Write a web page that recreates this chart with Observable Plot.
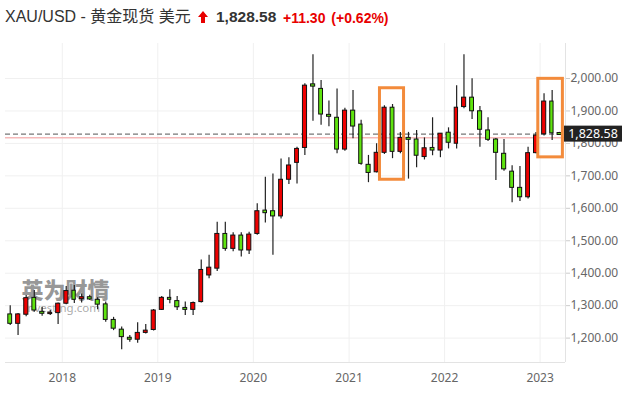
<!DOCTYPE html>
<html>
<head>
<meta charset="utf-8">
<script src="https://cdn.jsdelivr.net/npm/d3@7"></script>
<script src="https://cdn.jsdelivr.net/npm/@observablehq/plot@0.6"></script>
<style>
html, body { margin: 0; padding: 0; background: #fff; width: 630px; height: 395px; overflow: hidden; }
#header { position: relative; height: 32px; font-family: "Liberation Sans", "Noto Sans CJK SC", sans-serif; white-space: nowrap; }
#header span, #header svg { position: absolute; }
#title { left: 5px; top: 8px; font-size: 16px; color: #333; line-height: 18px; }
#arrow { left: 198px; top: 11px; }
#price { left: 216px; top: 8px; font-size: 15.5px; font-weight: bold; color: #333; line-height: 18px; }
#chg { left: 283px; top: 9px; font-size: 14px; font-weight: bold; color: #e80000; line-height: 18px; word-spacing: 2px; }
#chart { position: absolute; left: 0; top: 32px; }
</style>
</head>
<body>
<div id="header">
  <span id="title">XAU/USD - 黄金现货 美元</span>
  <svg id="arrow" width="10" height="12" viewBox="0 0 10 12"><polygon points="5,0 10,6 7,6 7,12 3,12 3,6 0,6" fill="#e80000"/></svg>
  <span id="price">1,828.58</span>
  <span id="chg">+11.30 (+0.62%)</span>
</div>
<div id="chart"></div>
<script>
// ---- data (monthly XAU/USD candles) ----
const months = [
  "2017-06","2017-07","2017-08","2017-09","2017-10","2017-11","2017-12",
  "2018-01","2018-02","2018-03","2018-04","2018-05","2018-06","2018-07","2018-08","2018-09","2018-10","2018-11","2018-12",
  "2019-01","2019-02","2019-03","2019-04","2019-05","2019-06","2019-07","2019-08","2019-09","2019-10","2019-11","2019-12",
  "2020-01","2020-02","2020-03","2020-04","2020-05","2020-06","2020-07","2020-08","2020-09","2020-10","2020-11","2020-12",
  "2021-01","2021-02","2021-03","2021-04","2021-05","2021-06","2021-07","2021-08","2021-09","2021-10","2021-11","2021-12",
  "2022-01","2022-02","2022-03","2022-04","2022-05","2022-06","2022-07","2022-08","2022-09","2022-10","2022-11","2022-12",
  "2023-01","2023-02","2023-03"
];
const openP = [
  1273,1244,1272,1324,1281,1274,1277,
  1306,1346,1320,1326,1318,1304,1256,1226,1201,1195,1216,1225,
  1287,1324,1314,1293,1287,1311,1393,1414,1521,1475,1516,1470,
  1521,1593,1591,1575,1688,1740,1786,1982,1968,1888,1879,1781,
  1901,1858,1734,1711,1771,1910,1774,1817,1812,1758,1786,1778,
  1833,1799,1912,1941,1899,1840,1812,1768,1713,1663,1634,1770,
  1828,1929,1832
];
const highP = [
  1300,1276,1331,1347,1295,1285,1308,
  1359,1362,1336,1332,1324,1311,1264,1234,1208,1247,1242,1288,
  1328,1349,1328,1311,1311,1441,1455,1557,1557,1525,1525,1526,
  1614,1696,1706,1752,1756,1788,1984,2073,1994,1931,1968,1908,
  1963,1871,1763,1799,1916,1920,1834,1834,1840,1817,1879,1830,
  1848,1978,2073,1999,1914,1879,1815,1812,1731,1729,1788,1834,
  1953,1963,1834
];
const lowP = [
  1239,1208,1266,1280,1267,1270,1242,
  1303,1307,1308,1316,1287,1249,1223,1164,1187,1184,1213,1222,
  1285,1306,1285,1270,1270,1308,1383,1405,1468,1466,1450,1458,
  1517,1555,1455,1567,1673,1675,1763,1868,1856,1851,1768,1776,
  1814,1733,1679,1709,1766,1753,1768,1690,1725,1749,1762,1756,
  1783,1783,1907,1874,1788,1806,1686,1714,1617,1621,1629,1768,
  1823,1809,1825
];
const closeP = [
  1244,1273,1323,1285,1275,1278,1306,
  1345,1318,1326,1319,1303,1256,1229,1203,1195,1216,1223,1285,
  1324,1318,1295,1287,1308,1410,1417,1521,1475,1516,1470,1519,
  1591,1585,1575,1688,1732,1783,1978,1975,1889,1882,1781,1901,
  1852,1737,1709,1771,1910,1774,1817,1811,1762,1785,1778,1830,
  1802,1910,1941,1899,1842,1811,1771,1720,1663,1634,1770,1824,
  1929,1831,1826
];
const yearTicks = ["2018","2019","2020","2021","2022","2023"];
const priceTicks = [1200,1300,1400,1500,1600,1700,1800,1900,2000];
const lastPrice = 1828.58;
const prevClose = 1817.28;
// highlighted boxes
const boxStart = ["2021-04-29","2022-12-25"];
const boxEnd   = ["2021-07-30","2023-03-29"];
const boxLow   = [1688,1757];
const boxHigh  = [1970,1999];

// ---- build table ----
const parseM = s => { const [y,m] = s.split("-").map(Number); return [y, m-1]; };
const candles = months.map((s,i) => {
  const [y,m] = parseM(s);
  return {
    start: new Date(Date.UTC(y,m,1)),
    end: new Date(Date.UTC(y,m+1,1)),
    mid: new Date(Date.UTC(y,m,16)),
    open: openP[i], high: highP[i], low: lowP[i], close: closeP[i]
  };
});
const boxes = boxStart.map((s,i) => ({x1: new Date(s+"T00:00Z"), x2: new Date(boxEnd[i]+"T00:00Z"), y1: boxLow[i], y2: boxHigh[i]}));
const yearDates = yearTicks.map(y => new Date(Date.UTC(+y,0,1)));

const xDomain = [new Date(Date.UTC(2017,4,29)), new Date(Date.UTC(2023,3,8))];
const yDomain = [1124.8, 2107.9];
const UP = "#ee0000", DOWN = "#5fe30f";

const plot = Plot.plot({
  width: 630, height: 363,
  marginTop: 11, marginBottom: 33, marginLeft: 5, marginRight: 65,
  style: {fontFamily: "'Noto Sans', 'Open Sans', sans-serif", fontSize: "12px", background: "#fff"},
  x: {type: "utc", domain: xDomain},
  y: {domain: yDomain},
  marks: [
    Plot.gridY(priceTicks, {stroke: "#f0f0f0", strokeOpacity: 1}),
    Plot.gridX(yearDates, {stroke: "#f0f0f0", strokeOpacity: 1}),
    Plot.text(["英为财情"], {frameAnchor: "bottom-left", textAnchor: "start", lineAnchor: "bottom", dx: 16, dy: -65, fontSize: 22, fontWeight: "900", fill: "#7c7c7c", fillOpacity: 0.8, fontFamily: "'Noto Sans CJK SC', sans-serif"}),
    Plot.text(["Investing.com"], {frameAnchor: "bottom-left", textAnchor: "start", lineAnchor: "bottom", dx: 18, dy: -51, fontSize: 11.5, fill: "#9a9a9a", fillOpacity: 0.85}),
    Plot.ruleY([prevClose], {stroke: "#f6b9b9", strokeWidth: 1.5}),
    Plot.ruleY([lastPrice], {stroke: "#777", strokeWidth: 1.2, strokeDasharray: "5,3"}),
    Plot.ruleX(candles, {x: "mid", y1: "low", y2: "high", stroke: "#222", strokeWidth: 1.2}),
    Plot.rect(candles, {x1: "start", x2: "end", y1: "open", y2: "close", insetLeft: 2, insetRight: 2,
      fill: d => d.close >= d.open ? UP : DOWN, stroke: "#111", strokeWidth: 1}),
    Plot.rect(boxes, {x1: "x1", x2: "x2", y1: "y1", y2: "y2", fill: "none", stroke: "#f38b3b", strokeWidth: 3}),
    Plot.ruleY([yDomain[0]], {stroke: "#e3e3e3"}),
    Plot.ruleX([xDomain[1]], {stroke: "#e3e3e3"}),
    Plot.axisX(yearDates, {tickFormat: d3.utcFormat("%Y"), tickSize: 0, tickPadding: 11, fill: "#666", label: null}),
    Plot.axisY(priceTicks, {anchor: "right", tickFormat: d3.format(",.2f"), tickSize: 4, tickPadding: 1, stroke: "#ccc", fill: "#666", label: null})
  ]
});
document.getElementById("chart").appendChild(plot);

// current-price label on the right axis
const ys = plot.scale("y").apply(lastPrice);
const xr = plot.scale("x").apply(xDomain[1]);
const g = d3.select(plot).append("g");
g.append("rect").attr("x", xr - 1).attr("y", ys - 8).attr("width", 58).attr("height", 16).attr("fill", "#222");
g.append("text").attr("x", xr + 28).attr("y", ys).attr("dy", "0.35em").attr("text-anchor", "middle")
  .attr("fill", "#fff").attr("font-size", 12.5).attr("font-family", "'Noto Sans', sans-serif").text(d3.format(",.2f")(lastPrice));
</script>
</body>
</html>
